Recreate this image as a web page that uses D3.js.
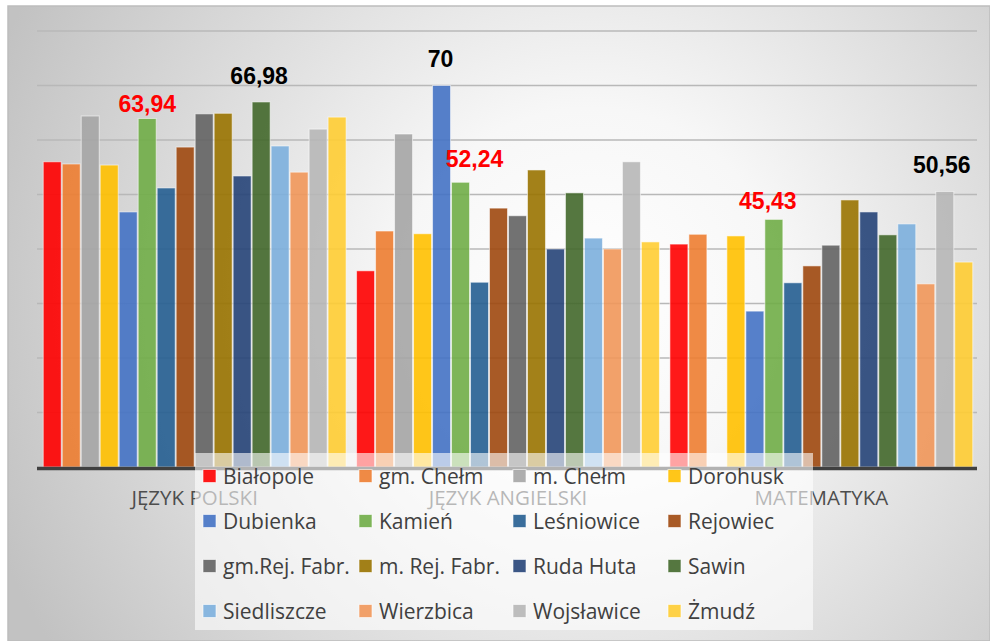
<!DOCTYPE html>
<head>
    <style>
        body { margin: 0; background: #fff; }
        svg { display: block; }
    </style>
</head>
<body>
    <script src="https://d3js.org/d3.v7.min.js"></script>
    <script>
        const w = 990, h = 641;

        // data
        const subjects = ['JĘZYK POLSKI', 'JĘZYK ANGIELSKI', 'MATEMATYKA'];
        const schools = ['Białopole', 'gm. Chełm', 'm. Chełm', 'Dorohusk',
                         'Dubienka', 'Kamień', 'Leśniowice', 'Rejowiec',
                         'gm.Rej. Fabr.', 'm. Rej. Fabr.', 'Ruda Huta', 'Sawin',
                         'Siedliszcze', 'Wierzbica', 'Wojsławice', 'Żmudź'];
        const polski    = [56.0, 55.6, 64.4, 55.4, 46.8, 63.94, 51.2, 58.7, 64.8, 64.9, 53.4, 66.98, 58.9, 54.1, 62.0, 64.2];
        const angielski = [36.0, 43.3, 61.1, 42.8, 70, 52.24, 33.9, 47.5, 46.1, 54.5, 40.0, 50.3, 42.0, 40.0, 56.0, 41.3];
        const matma     = [40.9, 42.7, null, 42.4, 28.6, 45.43, 33.8, 36.9, 40.7, 49.0, 46.8, 42.6, 44.6, 33.6, 50.56, 37.6];
        const yTicks = [0, 10, 20, 30, 40, 50, 60, 70, 80];
        // highlighted values: [subject index, school index, text, colour]
        const highlights = [[0, 5, '63,94', 'red'], [0, 11, '66,98', '#000'],
                            [1, 4, '70', '#000'], [1, 5, '52,24', 'red'],
                            [2, 5, '45,43', 'red'], [2, 14, '50,56', '#000']];
        const hlOffset = [[0, 7], [-2, 18], [-1, 19], [14, 15], [-6, 10], [-3, 18]];

        const colors = ['#FF0000', '#ED7D31', '#A5A5A5', '#FFC000', '#4472C4', '#70AD47',
                        '#255E91', '#9E480E', '#636363', '#997300', '#264478', '#43682B',
                        '#7CAFDD', '#F1975A', '#B7B7B7', '#FFCD33'];

        const values = [polski, angielski, matma];

        const svg = d3.select('body').append('svg')
                      .attr('width', w).attr('height', h);

        const grad = svg.append('defs').append('radialGradient')
                        .attr('id', 'bg')
                        .attr('gradientUnits', 'userSpaceOnUse')
                        .attr('cx', 590).attr('cy', 300).attr('r', 640);
        grad.append('stop').attr('offset', 0).attr('stop-color', '#ffffff');
        grad.append('stop').attr('offset', 0.3).attr('stop-color', '#f7f7f7');
        grad.append('stop').attr('offset', 1).attr('stop-color', '#c2c2c2');

        svg.append('rect')
           .attr('x', 8).attr('y', 6).attr('width', w - 8).attr('height', h - 6)
           .attr('fill', 'url(#bg)')
           .attr('stroke', '#bdbdbd').attr('stroke-width', 1.5);

        const x0 = d3.scaleBand().domain(subjects).range([38, 978]);
        const x1 = d3.scaleBand().domain(schools)
                     .range([0, x0.bandwidth()]).paddingOuter(0.25);
        const y = d3.scaleLinear().domain([0, 80]).range([467, 31]);

        // grid
        svg.append('g').selectAll('line')
           .data(yTicks.slice(1))
           .enter().append('line')
           .attr('x1', 37).attr('x2', 977)
           .attr('y1', d => y(d)).attr('y2', d => y(d))
           .attr('stroke', '#b8b8b8').attr('stroke-width', 1.5);

        // bars
        const groups = svg.append('g').selectAll('g')
            .data(subjects)
            .enter().append('g')
            .attr('transform', d => `translate(${x0(d)},0)`);

        groups.selectAll('rect')
            .data((d, gi) => values[gi].map((v, i) => ({ v, i })).filter(d => d.v !== null))
            .enter().append('rect')
            .attr('x', d => x1(schools[d.i]) + 0.5)
            .attr('width', x1.bandwidth() - 1)
            .attr('y', d => y(d.v))
            .attr('height', d => y(0) - y(d.v))
            .attr('fill', d => colors[d.i])
            .attr('fill-opacity', 0.9)
            .attr('stroke', 'rgba(255,255,255,0.55)')
            .attr('stroke-width', 1);

        // axis line
        svg.append('line')
           .attr('x1', 37).attr('x2', 977)
           .attr('y1', y(0) + 1.5).attr('y2', y(0) + 1.5)
           .attr('stroke', '#404040').attr('stroke-width', 3.5);

        // category labels
        svg.append('g').selectAll('text')
           .data(subjects)
           .enter().append('text')
           .attr('x', d => x0(d) + x0.bandwidth() / 2)
           .attr('y', 505)
           .attr('text-anchor', 'middle')
           .attr('font-family', '"Open Sans", sans-serif')
           .attr('font-size', 20.5)
           .attr('fill', '#4d4d4d')
           .text(d => d);

        // value labels
        svg.append('g').selectAll('text')
           .data(highlights)
           .enter().append('text')
           .attr('x', (d, k) => x0(subjects[d[0]]) + x1(schools[d[1]]) + x1.bandwidth() / 2 + hlOffset[k][0])
           .attr('y', (d, k) => y(values[d[0]][d[1]]) - hlOffset[k][1])
           .attr('text-anchor', 'middle')
           .attr('font-family', '"Liberation Sans", Arial, sans-serif')
           .attr('font-weight', 'bold')
           .attr('font-size', 23)
           .attr('fill', d => d[3])
           .text(d => d[2]);

        // legend
        const legend = svg.append('g');
        legend.append('rect')
              .attr('x', 195).attr('y', 453).attr('width', 618).attr('height', 177)
              .attr('fill', '#fff').attr('fill-opacity', 0.6);

        const colX = [203, 359, 513, 668];
        const item = legend.selectAll('g.item')
            .data(schools)
            .enter().append('g')
            .attr('class', 'item')
            .attr('transform', (d, i) => `translate(${colX[i % 4]},${476 + Math.floor(i / 4) * 45})`);

        item.append('rect')
            .attr('x', 0).attr('y', -6.5).attr('width', 13).attr('height', 13)
            .attr('fill', (d, i) => colors[i])
            .attr('fill-opacity', 0.9)
            .attr('stroke', 'rgba(255,255,255,0.6)');

        item.append('text')
            .attr('x', 20).attr('y', 7.5)
            .attr('font-family', '"Open Sans", sans-serif')
            .attr('font-size', 21)
            .attr('fill', '#404040')
            .text(d => d);
    </script>
</body>
